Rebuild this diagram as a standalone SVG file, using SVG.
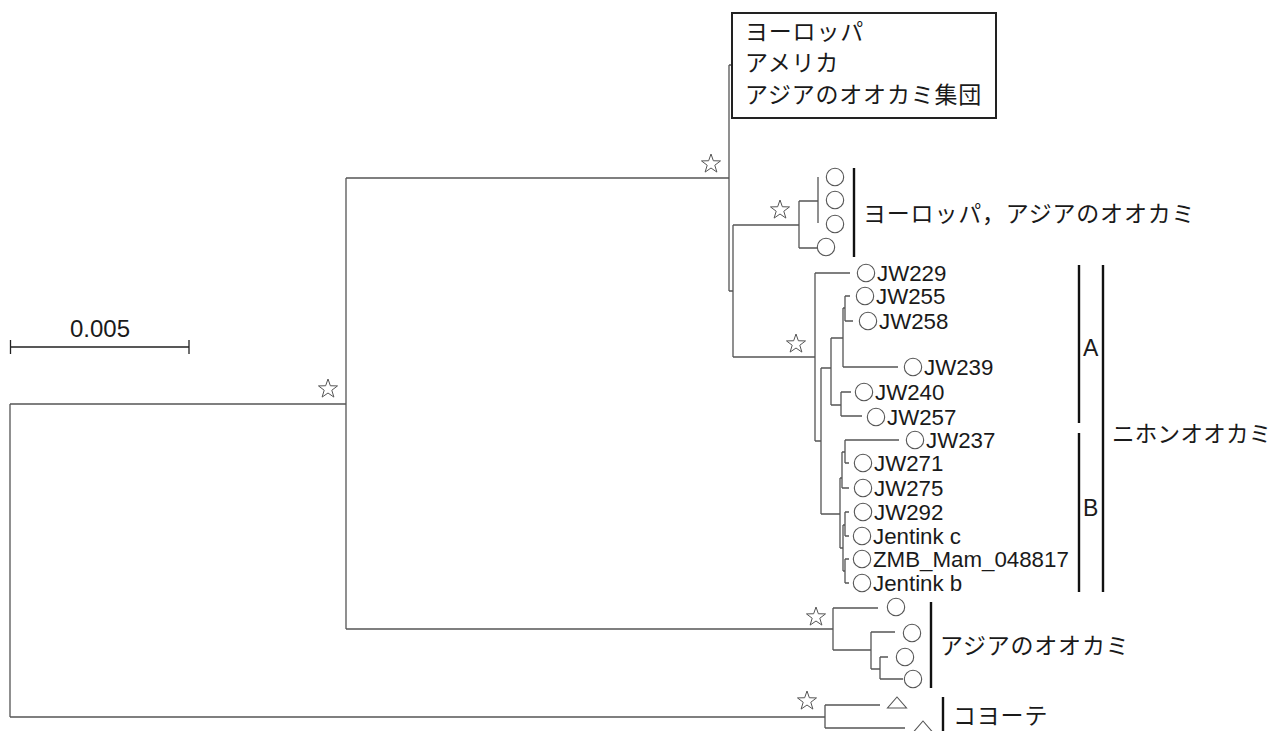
<svg xmlns="http://www.w3.org/2000/svg" width="1277" height="731" viewBox="0 0 1277 731">
<style>
.br{fill:none;stroke:#555;stroke-width:1.3}
.bar{fill:none;stroke:#111;stroke-width:2.4}
.leaf{fill:none;stroke:#555;stroke-width:1.1}
.lat{font-family:'Liberation Sans','Noto Sans CJK JP',sans-serif;font-size:22.3px;fill:#1a1a1a}
.jp{font-family:'Noto Sans CJK JP','Liberation Sans',sans-serif;font-size:23px;letter-spacing:0.8px;fill:#1a1a1a}
.star{fill:none;stroke:#555;stroke-width:1}
</style>
<defs>
<path id="star" d="M0,-10 L2.35,-3.24 L9.51,-3.09 L3.8,1.24 L5.88,8.09 L0,4 L-5.88,8.09 L-3.8,1.24 L-9.51,-3.09 L-2.35,-3.24 Z"/>
<circle id="c" r="8.7"/>
<path id="tri" d="M0,0 L9.5,11 L-9.5,11 Z"/>
</defs>
<rect width="1277" height="731" fill="#fff"/>

<g id="connectors" class="br">
<path d="M10,404 V717 M10,404 H346 M10,717 H825"/>
<path d="M346,178 V629 M346,178 H729 M346,629 H833"/>
<path d="M729,65 V291 M729,65 H732 M729,291 H733"/>
<path d="M733,225 V357 M733,225 H799 M799,201 V248 M799,201 H818 M818,177 V223 M799,248 H817"/>
<path d="M733,357 H815 M815,273 V441 M815,273 H850 M815,441 H821"/>
<path d="M821,368 V514 M821,368 H831 M831,338 V405 M831,338 H843 M843,308 V367 M843,308 H845 M845,296 V321 M845,296 H850 M845,321 H853 M843,367 H898"/>
<path d="M831,405 H841 M841,392 V416 M841,392 H851 M841,416 H862"/>
<path d="M821,514 H840 M840,478 V548 M840,478 H842 M842,452 V488 M842,452 H845 M845,440 V463 M845,440 H899 M845,463 H849 M842,488 H849"/>
<path d="M840,548 H843 M843,525 V571 M843,525 H845 M845,512 V536 M845,512 H849 M845,536 H849 M843,571 H845 M845,559 V583 M845,559 H849 M845,583 H849"/>
<path d="M833,608 V650 M833,608 H878 M833,650 H871 M871,632 V669 M871,632 H895 M871,669 H880 M880,657 V679 M880,657 H888 M880,679 H903"/>
<path d="M825,705 V728 M825,705 H880 M825,728 H905"/>
</g>

<g id="supports">
<use href="#star" class="star" x="328" y="389"/>
<use href="#star" class="star" x="711" y="164"/>
<use href="#star" class="star" x="780" y="210"/>
<use href="#star" class="star" x="796" y="344"/>
<use href="#star" class="star" x="816" y="617"/>
<use href="#star" class="star" x="807" y="701"/>
</g>

<g id="scale">
<path d="M10,347 H189 M10.5,340 V354 M189,340 V354" fill="none" stroke="#222" stroke-width="1.3"/>
<text class="lat" x="100" y="337" text-anchor="middle" style="font-size:24px">0.005</text>
</g>

<g id="box-group">
<rect x="732" y="13" width="264" height="105" fill="#fff" stroke="#222" stroke-width="2"/>
<text class="jp" x="745" y="40">ヨーロッパ</text>
<text class="jp" x="745" y="71">アメリカ</text>
<text class="jp" x="745" y="103">アジアのオオカミ集団</text>
</g>

<g id="euro-asia">
<use href="#c" class="leaf" x="835" y="177"/>
<use href="#c" class="leaf" x="835" y="200"/>
<use href="#c" class="leaf" x="835" y="224"/>
<use href="#c" class="leaf" x="826" y="247"/>
<path class="bar" d="M854,168 V257"/>
<text class="jp" x="863" y="222">ヨーロッパ，アジアのオオカミ</text>
</g>

<g id="leaf-JW229"><use href="#c" class="leaf" x="866" y="273"/><text class="lat" x="877" y="281">JW229</text></g>
<g id="leaf-JW255"><use href="#c" class="leaf" x="865" y="296"/><text class="lat" x="876" y="304">JW255</text></g>
<g id="leaf-JW258"><use href="#c" class="leaf" x="868" y="321"/><text class="lat" x="879" y="329">JW258</text></g>
<g id="leaf-JW239"><use href="#c" class="leaf" x="913" y="367"/><text class="lat" x="924" y="375">JW239</text></g>
<g id="leaf-JW240"><use href="#c" class="leaf" x="864" y="392"/><text class="lat" x="875" y="400">JW240</text></g>
<g id="leaf-JW257"><use href="#c" class="leaf" x="876" y="417"/><text class="lat" x="887" y="425">JW257</text></g>
<g id="leaf-JW237"><use href="#c" class="leaf" x="915" y="440"/><text class="lat" x="926" y="448">JW237</text></g>
<g id="leaf-JW271"><use href="#c" class="leaf" x="863" y="463"/><text class="lat" x="874" y="471">JW271</text></g>
<g id="leaf-JW275"><use href="#c" class="leaf" x="863" y="488"/><text class="lat" x="874" y="496">JW275</text></g>
<g id="leaf-JW292"><use href="#c" class="leaf" x="863" y="512"/><text class="lat" x="874" y="520">JW292</text></g>
<g id="leaf-JentinkC"><use href="#c" class="leaf" x="862" y="536"/><text class="lat" x="873" y="544">Jentink c</text></g>
<g id="leaf-ZMB"><use href="#c" class="leaf" x="862" y="559"/><text class="lat" x="873" y="567">ZMB_Mam_048817</text></g>
<g id="leaf-JentinkB"><use href="#c" class="leaf" x="862" y="583"/><text class="lat" x="873" y="591">Jentink b</text></g>

<g id="nihon-labels">
<path class="bar" d="M1079,265 V423 M1079,433 V592 M1103,265 V592"/>
<text class="lat" x="1083" y="356" style="font-size:23px">A</text>
<text class="lat" x="1083" y="516" style="font-size:23px">B</text>
<text class="jp" x="1112" y="442" style="font-size:22.5px;letter-spacing:0.3px">ニホンオオカミ</text>
</g>

<g id="asia">
<use href="#c" class="leaf" x="896" y="607"/>
<use href="#c" class="leaf" x="912" y="633"/>
<use href="#c" class="leaf" x="905" y="657"/>
<use href="#c" class="leaf" x="913" y="679"/>
<path class="bar" d="M931,602 V688"/>
<text class="jp" x="940" y="654">アジアのオオカミ</text>
</g>

<g id="coyote">
<use href="#tri" class="leaf" x="897" y="697"/>
<use href="#tri" class="leaf" x="923" y="721"/>
<path class="bar" d="M943,697 V731"/>
<text class="jp" x="953" y="724">コヨーテ</text>
</g>
</svg>
